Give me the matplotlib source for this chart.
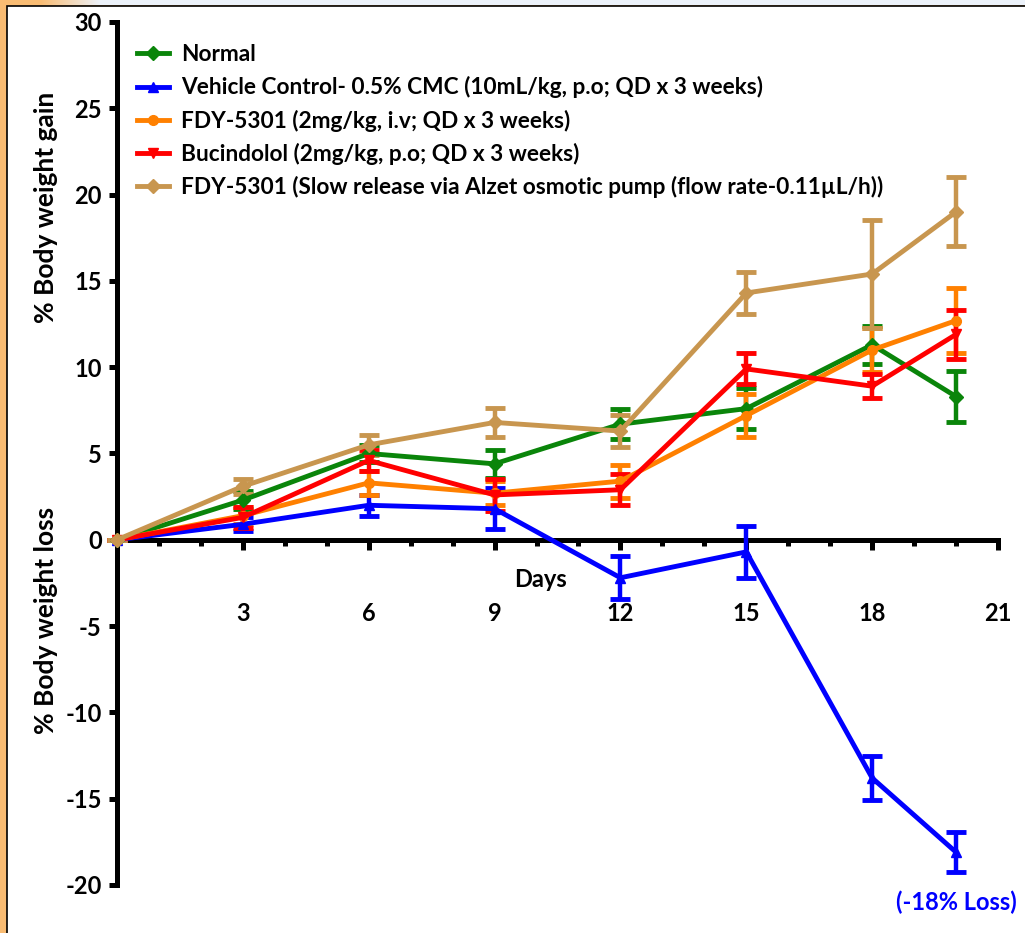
import matplotlib
matplotlib.use('Agg')
import matplotlib.pyplot as plt
from matplotlib.patches import Rectangle
from matplotlib.lines import Line2D
import numpy as np

plt.rcParams['font.family'] = ['Lato', 'DejaVu Sans']
plt.rcParams['font.weight'] = 'bold'
plt.rcParams['axes.unicode_minus'] = False

# Data
days = [0, 3, 6, 9, 12, 15, 18, 20]

normal = [0, 2.3, 5.0, 4.4, 6.7, 7.6, 11.3, 8.3]
normal_err = [0, 0.5, 0.5, 0.8, 0.85, 1.2, 1.1, 1.5]

vehicle = [0, 0.9, 2.0, 1.8, -2.2, -0.7, -13.8, -18.1]
vehicle_err = [0, 0.4, 0.6, 1.2, 1.25, 1.5, 1.3, 1.15]

fdy = [0, 1.4, 3.3, 2.7, 3.4, 7.2, 11.0, 12.7]
fdy_err = [0, 0.5, 0.7, 0.7, 0.95, 1.25, 1.3, 1.9]

bucindolol = [0, 1.3, 4.6, 2.6, 2.9, 9.9, 8.9, 11.9]
bucindolol_err = [0, 0.6, 0.6, 0.95, 0.9, 0.9, 0.7, 1.4]

slow = [0, 3.1, 5.5, 6.8, 6.3, 14.3, 15.4, 19.0]
slow_err = [0, 0.45, 0.6, 0.85, 0.95, 1.2, 3.1, 2.0]

labels = ['Normal',
          'Vehicle Control- 0.5% CMC (10mL/kg, p.o; QD x 3 weeks)',
          'FDY-5301 (2mg/kg, i.v; QD x 3 weeks)',
          'Bucindolol (2mg/kg, p.o; QD x 3 weeks)',
          'FDY-5301 (Slow release via Alzet osmotic pump (flow rate-0.11\u00b5L/h))']
colors = ['#0A850A', '#0000FF', '#FF8000', '#FF0000', '#C8964F']
markers = ['D', '^', 'o', 'v', 'D']
series = [(normal, normal_err), (vehicle, vehicle_err), (fdy, fdy_err),
          (bucindolol, bucindolol_err), (slow, slow_err)]

W, H = 1025, 933
fig = plt.figure(figsize=(W / 100, H / 100), dpi=100)
fig.patch.set_facecolor('#F9BC73')

# white slide panel with thin black border
fig.patches.append(Rectangle((7 / W, -0.01), 1.02, 1 - 6 / H + 0.01, transform=fig.transFigure,
                             facecolor='white', edgecolor='black', lw=1.2, zorder=-10))
# top strip gradient
grad_ax = fig.add_axes([0, 1 - 5 / H, 1, 5 / H])
grad = np.ones((1, W, 3))
orange = np.array([249, 188, 115]) / 255
pale = np.array([236, 242, 250]) / 255
for i in range(W):
    t = np.clip((i - 40) / 60, 0, 1)
    grad[0, i] = orange * (1 - t) + pale * t
grad_ax.imshow(grad, aspect='auto')
grad_ax.axis('off')

ax = fig.add_axes([117 / W, 1 - 885 / H, 881 / W, 863 / H])
ax.patch.set_alpha(0)

FS = 17
for (vals, errs), c, m, lab in zip(series, colors, markers, labels):
    ax.errorbar(days, vals, yerr=errs, fmt='none', ecolor=c, elinewidth=3.2,
                capsize=7.5, capthick=3.5, clip_on=False, zorder=3)
    ax.plot(days, vals, color=c, lw=3.5, marker=m, markersize=7,
            clip_on=False, zorder=4, label=lab)

ax.set_xlim(0, 21)
ax.set_ylim(-20, 30)
ax.spines['top'].set_visible(False)
ax.spines['right'].set_visible(False)
ax.spines['bottom'].set_position(('data', 0))
ax.spines['left'].set_linewidth(3.6)
ax.spines['bottom'].set_linewidth(3.6)

ax.set_xticks([3, 6, 9, 12, 15, 18, 21])
ax.set_xticks(range(0, 22), minor=True)
ax.set_yticks(range(-20, 31, 5))
ax.tick_params(axis='x', which='major', length=7, width=3.6, pad=38, labelsize=FS)
ax.tick_params(axis='x', which='minor', length=4, width=3.6)
ax.tick_params(axis='y', which='major', length=6, width=3.6, pad=5, labelsize=FS)
for t in ax.get_xticklabels() + ax.get_yticklabels():
    t.set_fontweight('bold')

ax.text(10.1, -2.3, 'Days', ha='center', va='center', fontsize=FS, fontweight='bold')
ax.text(20, -21.0, '(-18% Loss)', ha='center', va='center', fontsize=FS,
        fontweight='bold', color='#0000FF', clip_on=False)

fig.text(46 / W, 1 - 207 / H, '% Body weight gain', rotation=90, ha='center', va='center',
         fontsize=19, fontweight='bold')
fig.text(46 / W, 1 - 620 / H, '% Body weight loss', rotation=90, ha='center', va='center',
         fontsize=19, fontweight='bold')

handles = [Line2D([], [], color=c, lw=3.5, marker=m, markersize=7) for c, m in zip(colors, markers)]
leg = ax.legend(handles, labels, loc='upper left', bbox_to_anchor=(126 / W, 1 - 33 / H),
                bbox_transform=fig.transFigure, frameon=False, fontsize=16.3,
                handlelength=1.4, handletextpad=0.55, labelspacing=0.49, borderpad=0)
for t in leg.get_texts():
    t.set_fontweight('bold')

fig.savefig('out.png', dpi=100)
